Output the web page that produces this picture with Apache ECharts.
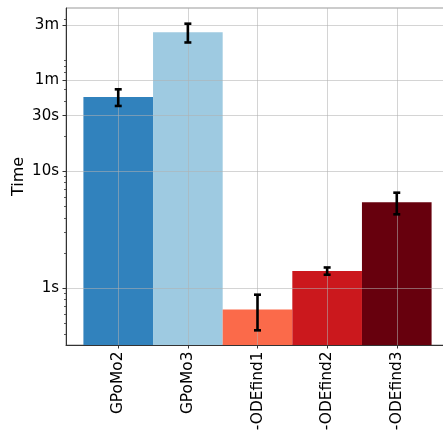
<!DOCTYPE html>
<html>
<head>
<meta charset="utf-8">
<script src="https://cdn.jsdelivr.net/npm/echarts@6/dist/echarts.min.js"></script>
<style>
html,body{margin:0;padding:0;background:#fff;}
#c{width:443px;height:440px;}
</style>
</head>
<body>
<div id="c"></div>
<script>
const categories = ['GPoMo2', 'GPoMo3', '-ODEfind1', '-ODEfind2', '-ODEfind3'];
const times = [43.3, 155, 0.656, 1.40, 5.42];
const errLow = [36.3, 127, 0.434, 1.30, 4.28];
const errHigh = [50.4, 184, 0.877, 1.50, 6.56];
const barColors = ['#3182bd', '#9ecae1', '#fb6a4a', '#cb181d', '#67000d'];
const yTickValues = [1, 10, 30, 60, 180];
const yTickLabels = ['1s', '10s', '30s', '1m', '3m'];
const yMinorTicks = [0.4, 0.5, 0.6, 0.7, 0.8, 0.9, 2, 3, 4, 5, 6, 7, 8, 9, 20, 40, 50, 70, 80, 90, 200];
const yMin = 0.325, yMax = 250.7;

const font = 'DejaVu Sans';
const chart = echarts.init(document.getElementById('c'), null, {renderer: 'canvas'});
const xIdx = categories.map((c, i) => i);

chart.setOption({
  animation: false,
  grid: {left: 66, top: 8, width: 383, bottom: 95, show: true, borderColor: '#999', borderWidth: 1,
    backgroundColor: 'transparent', containLabel: false, outerBoundsMode: 'none'},
  xAxis: {
    type: 'value', min: -0.75, max: 4.75, z: 10,
    axisLine: {show: true, onZero: false, lineStyle: {color: '#333', width: 1}},
    axisTick: {show: true, length: 3.5, customValues: xIdx, lineStyle: {color: '#333'}},
    axisLabel: {customValues: xIdx, rotate: 90, fontFamily: font, fontSize: 15.4, color: '#000', margin: 6.5,
      formatter: v => categories[Math.round(v)]},
    splitLine: {show: true, lineStyle: {color: 'rgba(176,176,176,0.55)', width: 1}}
  },
  yAxis: [{
    type: 'log', logBase: 10, min: yMin, max: yMax, startValue: yMin, z: 10,
    name: 'Time', nameLocation: 'middle', nameGap: 39, nameMoveOverlap: false,
    nameTextStyle: {fontFamily: font, fontSize: 16, color: '#000'},
    axisLine: {show: true, onZero: false, lineStyle: {color: '#333', width: 1}},
    axisTick: {show: true, length: 3.5, customValues: yTickValues, lineStyle: {color: '#333'}},
    axisLabel: {customValues: yTickValues, fontFamily: font, fontSize: 15, color: '#000', margin: 7,
      formatter: v => { const k = yTickValues.findIndex(t => Math.abs(t - v) / t < 1e-6); return k >= 0 ? yTickLabels[k] : ''; }},
    splitLine: {show: true, lineStyle: {color: 'rgba(176,176,176,0.55)', width: 1}},
    minorTick: {show: false}
  }, {
    type: 'log', logBase: 10, min: yMin, max: yMax, position: 'left', z: 10,
    axisLine: {show: false, onZero: false},
    axisTick: {show: true, length: 2, customValues: yMinorTicks, lineStyle: {color: '#333', width: 0.8}},
    axisLabel: {show: false, customValues: yMinorTicks},
    splitLine: {show: false}
  }],
  series: [{
    type: 'bar',
    barWidth: '100%',
    barCategoryGap: 0,
    z: 2,
    data: xIdx.map(i => ({value: [i, times[i]], itemStyle: {color: barColors[i]}}))
  }, {
    type: 'custom',
    z: 20,
    data: xIdx.map(i => [i, errLow[i], errHigh[i]]),
    renderItem: function (params, api) {
      const lo = api.coord([api.value(0), api.value(1)]);
      const hi = api.coord([api.value(0), api.value(2)]);
      const w = 3.5;
      const st = {stroke: '#000', lineWidth: 2.6};
      return {type: 'group', children: [
        {type: 'line', shape: {x1: lo[0], y1: lo[1], x2: hi[0], y2: hi[1]}, style: st},
        {type: 'line', shape: {x1: lo[0] - w, y1: lo[1], x2: lo[0] + w, y2: lo[1]}, style: st},
        {type: 'line', shape: {x1: hi[0] - w, y1: hi[1], x2: hi[0] + w, y2: hi[1]}, style: st}
      ]};
    }
  }]
});
</script>
</body>
</html>
